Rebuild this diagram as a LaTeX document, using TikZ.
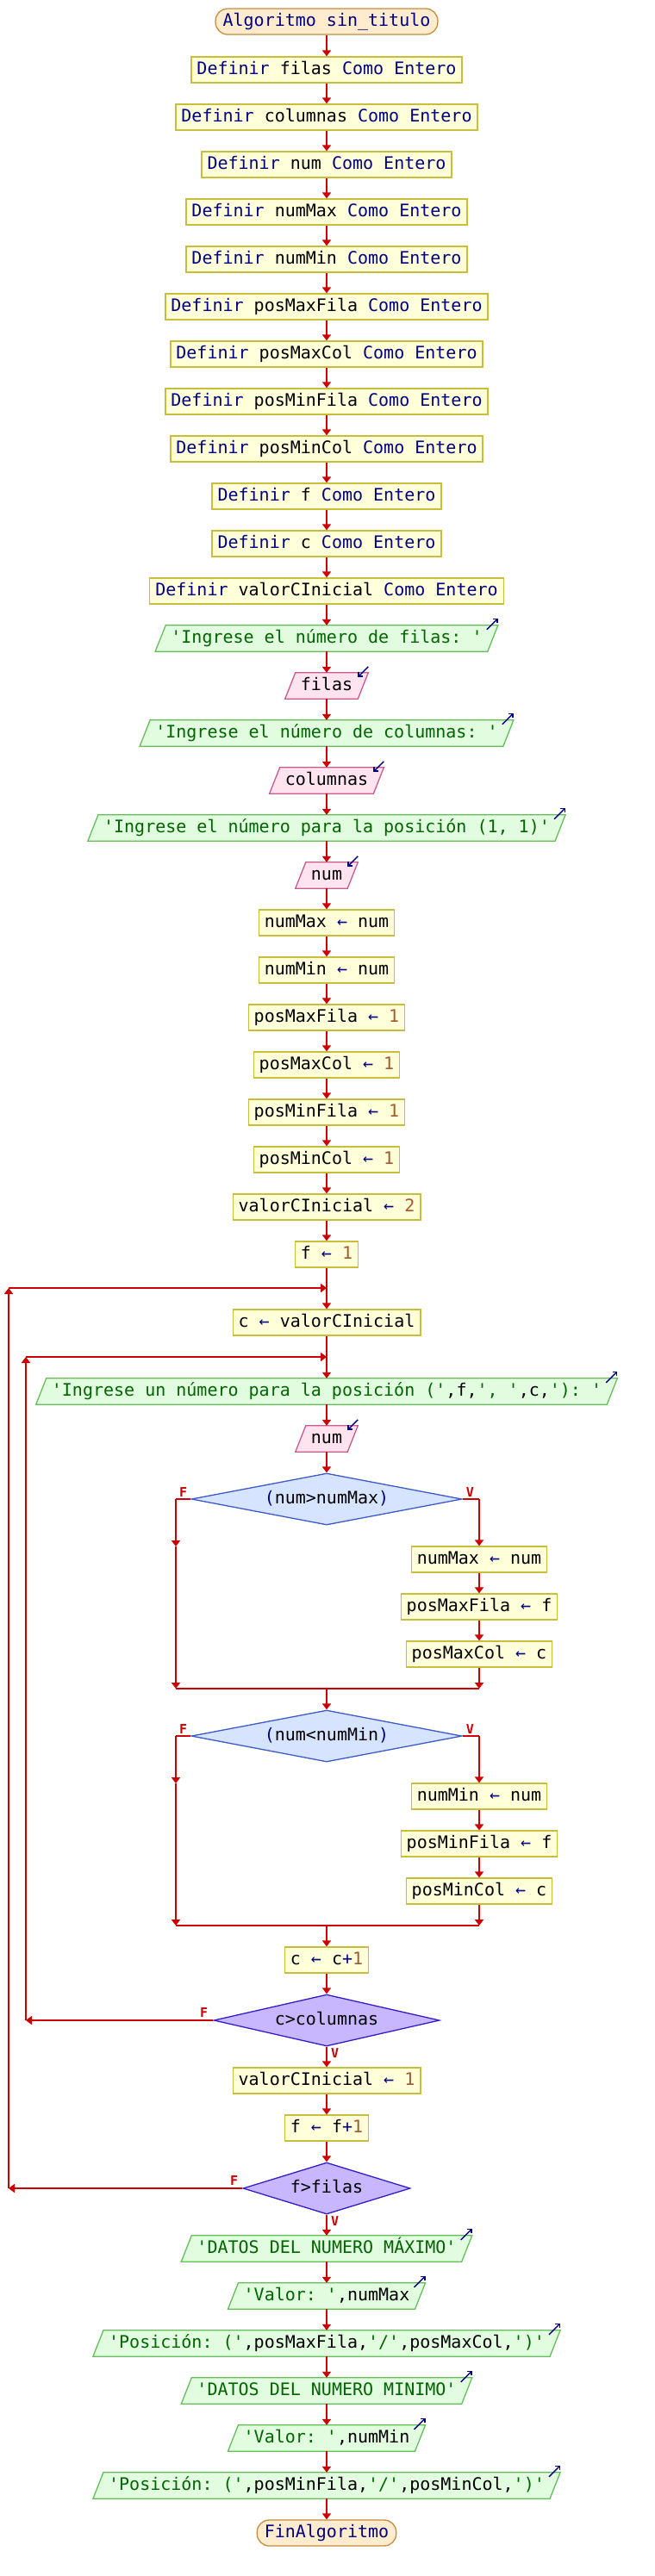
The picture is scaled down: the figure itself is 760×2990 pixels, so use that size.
\documentclass[tikz,border=0pt]{standalone}
\usepackage{fontspec}
\setmonofont{DejaVu Sans Mono}
\usetikzlibrary{arrows.meta,shapes.geometric,backgrounds}
\definecolor{flowred}{RGB}{204,0,0}
\definecolor{deffill}{RGB}{255,255,218}
\definecolor{defdraw}{RGB}{200,190,60}
\definecolor{outfill}{RGB}{226,252,224}
\definecolor{outdraw}{RGB}{100,190,90}
\definecolor{infill}{RGB}{255,228,240}
\definecolor{indraw}{RGB}{200,90,140}
\definecolor{iffill}{RGB}{214,228,255}
\definecolor{ifdraw}{RGB}{60,90,200}
\definecolor{repfill}{RGB}{200,182,255}
\definecolor{repdraw}{RGB}{50,30,200}
\definecolor{termfill}{RGB}{255,235,205}
\definecolor{termdraw}{RGB}{200,140,60}
\definecolor{kwblue}{RGB}{0,0,128}
\definecolor{strgreen}{RGB}{0,100,0}
\definecolor{numbrown}{RGB}{160,90,50}
\newcommand\pskw[1]{\textcolor{kwblue}{#1}}
\newcommand\psstr[1]{\textcolor{strgreen}{#1}}
\newcommand\psnum[1]{\textcolor{numbrown}{#1}}
\newcommand\psasg{\textcolor{kwblue}{←}}
\newcommand\psout[3]{%
  \node[iotext] (#1) at (379,#2) {#3};
  \begin{scope}[on background layer]
    \path[outshape] ([xshift=-6pt]#1.south west) -- ([xshift=-6pt]#1.south east) -- ([xshift=6pt]#1.north east) -- ([xshift=6pt]#1.north west) -- cycle;
  \end{scope}
  \draw[icon] ([shift={(-7,5)}]#1.north east) -- ([shift={(6,-8)}]#1.north east);
}
\newcommand\psin[3]{%
  \node[iotext] (#1) at (379,#2) {#3};
  \begin{scope}[on background layer]
    \path[inshape] ([xshift=-6pt]#1.south west) -- ([xshift=-6pt]#1.south east) -- ([xshift=6pt]#1.north east) -- ([xshift=6pt]#1.north west) -- cycle;
  \end{scope}
  \draw[icon] ([shift={(6,-7)}]#1.north east) -- ([shift={(-6,5)}]#1.north east);
}
\begin{document}
\begin{tikzpicture}[x=1pt,y=-1pt,
  base/.style={font=\ttfamily\fontsize{20}{24}\selectfont, text height=15pt, text depth=5pt, minimum height=30pt, inner ysep=0pt},
  defbox/.style={base, rectangle, draw=defdraw, fill=deffill, line width=1.3pt, inner xsep=6.5pt},
  term/.style={base, rectangle, rounded corners=14pt, draw=termdraw, fill=termfill, line width=1.3pt, inner xsep=8.5pt, text=kwblue},
  iotext/.style={base, rectangle, inner xsep=12pt},
  outshape/.style={draw=outdraw, fill=outfill, line width=1.3pt},
  inshape/.style={draw=indraw, fill=infill, line width=1.3pt},
  ifdia/.style={base, diamond, draw=ifdraw, fill=iffill, line width=1.3pt, inner sep=0pt, minimum height=60pt, aspect=5},
  repdia/.style={base, diamond, draw=repdraw, fill=repfill, line width=1.3pt, inner sep=0pt, minimum height=60pt, aspect=4},
  flow/.style={draw=flowred, line width=2pt, -{Triangle[length=7pt,width=10pt]}},
  fline/.style={draw=flowred, line width=2pt},
  icon/.style={draw=kwblue, line width=1.4pt, -{Straight Barb[length=3.5pt,width=7pt]}},
  lab/.style={font=\ttfamily\bfseries\fontsize{15}{18}\selectfont, text=flowred, inner sep=0pt},
]
\useasboundingbox (0,0) rectangle (760,2990);
% header
\node[term] (n0) at (379,25) {Algoritmo sin\_titulo};
\node[defbox] (d1) at (379,81) {\pskw{Definir} filas \pskw{Como Entero}};
\node[defbox] (d2) at (379,136) {\pskw{Definir} columnas \pskw{Como Entero}};
\node[defbox] (d3) at (379,191) {\pskw{Definir} num \pskw{Como Entero}};
\node[defbox] (d4) at (379,246) {\pskw{Definir} numMax \pskw{Como Entero}};
\node[defbox] (d5) at (379,301) {\pskw{Definir} numMin \pskw{Como Entero}};
\node[defbox] (d6) at (379,356) {\pskw{Definir} posMaxFila \pskw{Como Entero}};
\node[defbox] (d7) at (379,411) {\pskw{Definir} posMaxCol \pskw{Como Entero}};
\node[defbox] (d8) at (379,466) {\pskw{Definir} posMinFila \pskw{Como Entero}};
\node[defbox] (d9) at (379,521) {\pskw{Definir} posMinCol \pskw{Como Entero}};
\node[defbox] (d10) at (379,576) {\pskw{Definir} f \pskw{Como Entero}};
\node[defbox] (d11) at (379,631) {\pskw{Definir} c \pskw{Como Entero}};
\node[defbox] (d12) at (379,686) {\pskw{Definir} valorCInicial \pskw{Como Entero}};
\psout{o1}{741}{\psstr{'Ingrese el número de filas: '}}
\psin{i1}{796}{filas}
\psout{o2}{851}{\psstr{'Ingrese el número de columnas: '}}
\psin{i2}{906}{columnas}
\psout{o3}{961}{\psstr{'Ingrese el número para la posición (1, 1)'}}
\psin{i3}{1016}{num}
\node[defbox] (a1) at (379,1071) {numMax \psasg{} num};
\node[defbox] (a2) at (379,1126) {numMin \psasg{} num};
\node[defbox] (a3) at (379,1181) {posMaxFila \psasg{} \psnum{1}};
\node[defbox] (a4) at (379,1236) {posMaxCol \psasg{} \psnum{1}};
\node[defbox] (a5) at (379,1291) {posMinFila \psasg{} \psnum{1}};
\node[defbox] (a6) at (379,1346) {posMinCol \psasg{} \psnum{1}};
\node[defbox] (a7) at (379,1401) {valorCInicial \psasg{} \psnum{2}};
\node[defbox] (a8) at (379,1456) {f \psasg{} \psnum{1}};
\node[defbox] (a9) at (379,1535) {c \psasg{} valorCInicial};
\psout{o4}{1615}{\psstr{'Ingrese un número para la posición ('},f,\psstr{', '},c,\psstr{'): '}}
\psin{i4}{1670}{num}
\node[ifdia, minimum width=314pt] (if1) at (379,1740) {\pskw{(}num>numMax\pskw{)}};
\node[defbox] (b1) at (556,1810) {numMax \psasg{} num};
\node[defbox] (b2) at (556,1865) {posMaxFila \psasg{} f};
\node[defbox] (b3) at (556,1920) {posMaxCol \psasg{} c};
\node[ifdia, minimum width=314pt] (if2) at (379,2015) {\pskw{(}num<numMin\pskw{)}};
\node[defbox] (b4) at (556,2085) {numMin \psasg{} num};
\node[defbox] (b5) at (556,2140) {posMinFila \psasg{} f};
\node[defbox] (b6) at (556,2195) {posMinCol \psasg{} c};
\node[defbox] (a10) at (379,2275) {c \psasg{} c\pskw{+}\psnum{1}};
\node[repdia, minimum width=262pt] (rep1) at (379,2345) {c>columnas};
\node[defbox] (a11) at (379,2415) {valorCInicial \psasg{} \psnum{1}};
\node[defbox] (a12) at (379,2470) {f \psasg{} f\pskw{+}\psnum{1}};
\node[repdia, minimum width=194pt, aspect=3] (rep2) at (379,2540) {f>filas};
\psout{o5}{2610}{\psstr{'DATOS DEL NUMERO MÁXIMO'}}
\psout{o6}{2665}{\psstr{'Valor: '},numMax}
\psout{o7}{2720}{\psstr{'Posición: ('},posMaxFila,\psstr{'/'},posMaxCol,\psstr{')'}}
\psout{o8}{2775}{\psstr{'DATOS DEL NUMERO MINIMO'}}
\psout{o9}{2830}{\psstr{'Valor: '},numMin}
\psout{o10}{2885}{\psstr{'Posición: ('},posMinFila,\psstr{'/'},posMinCol,\psstr{')'}}
\node[term] (end) at (379,2940) {FinAlgoritmo};
% coordinates
\coordinate (J1) at (379,1495);
\coordinate (L1t) at (10,1495);
\coordinate (L1b) at (10,2540);
\coordinate (J2) at (379,1575);
\coordinate (L2t) at (30,1575);
\coordinate (L2b) at (30,2345);
\coordinate (pL) at (204,1740);
\coordinate (pLm) at (204,1795);
\coordinate (pLj) at (204,1960);
\coordinate (pR) at (556,1740);
\coordinate (pRj) at (556,1960);
\coordinate (pJ) at (379,1960);
\coordinate (qL) at (204,2015);
\coordinate (qLm) at (204,2070);
\coordinate (qLj) at (204,2235);
\coordinate (qR) at (556,2015);
\coordinate (qRj) at (556,2235);
\coordinate (qJ) at (379,2235);
% spine
\foreach \u/\v in {n0/d1,d1/d2,d2/d3,d3/d4,d4/d5,d5/d6,d6/d7,d7/d8,d8/d9,d9/d10,d10/d11,d11/d12,d12/o1,o1/i1,i1/o2,o2/i2,i2/o3,o3/i3,i3/a1,a1/a2,a2/a3,a3/a4,a4/a5,a5/a6,a6/a7,a7/a8,a8/a9,a9/o4,o4/i4,i4/if1,b1/b2,b2/b3,pJ/if2,b4/b5,b5/b6,qJ/a10,a10/rep1,rep1/a11,a11/a12,a12/rep2,rep2/o5,o5/o6,o6/o7,o7/o8,o8/o9,o9/o10,o10/end}
  \draw[flow] (\u) -- (\v);
% first if
\draw[fline] (if1.west) -- (pL);
\draw[flow] (pL) -- (pLm);
\draw[flow] (pLm) -- (pLj);
\draw[fline] (if1.east) -- (pR);
\draw[flow] (pR) -- (b1);
\draw[flow] (b3) -- (pRj);
\draw[fline] (pLj) -- (pRj);
\node[lab, anchor=south east] (f1) at ([shift={(-4,-2)}]if1.west) {F};
\node[lab, anchor=south west] (v1) at ([shift={(4,-2)}]if1.east) {V};
% second if
\draw[fline] (if2.west) -- (qL);
\draw[flow] (qL) -- (qLm);
\draw[flow] (qLm) -- (qLj);
\draw[fline] (if2.east) -- (qR);
\draw[flow] (qR) -- (b4);
\draw[flow] (b6) -- (qRj);
\draw[fline] (qLj) -- (qRj);
\node[lab, anchor=south east] (f2) at ([shift={(-4,-2)}]if2.west) {F};
\node[lab, anchor=south west] (v2) at ([shift={(4,-2)}]if2.east) {V};
% inner loop
\draw[flow] (rep1.west) -- (L2b);
\draw[flow] (L2b) -- (L2t);
\draw[flow] (L2t) -- (J2);
\node[lab, anchor=south east] (f3) at ([shift={(-6,-3)}]rep1.west) {F};
\node[lab, anchor=north west] (v3) at ([shift={(5,2)}]rep1.south) {V};
% outer loop
\draw[flow] (rep2.west) -- (L1b);
\draw[flow] (L1b) -- (L1t);
\draw[flow] (L1t) -- (J1);
\node[lab, anchor=south east] (f4) at ([shift={(-5,-3)}]rep2.west) {F};
\node[lab, anchor=north west] (v4) at ([shift={(5,2)}]rep2.south) {V};
\end{tikzpicture}
\end{document}
